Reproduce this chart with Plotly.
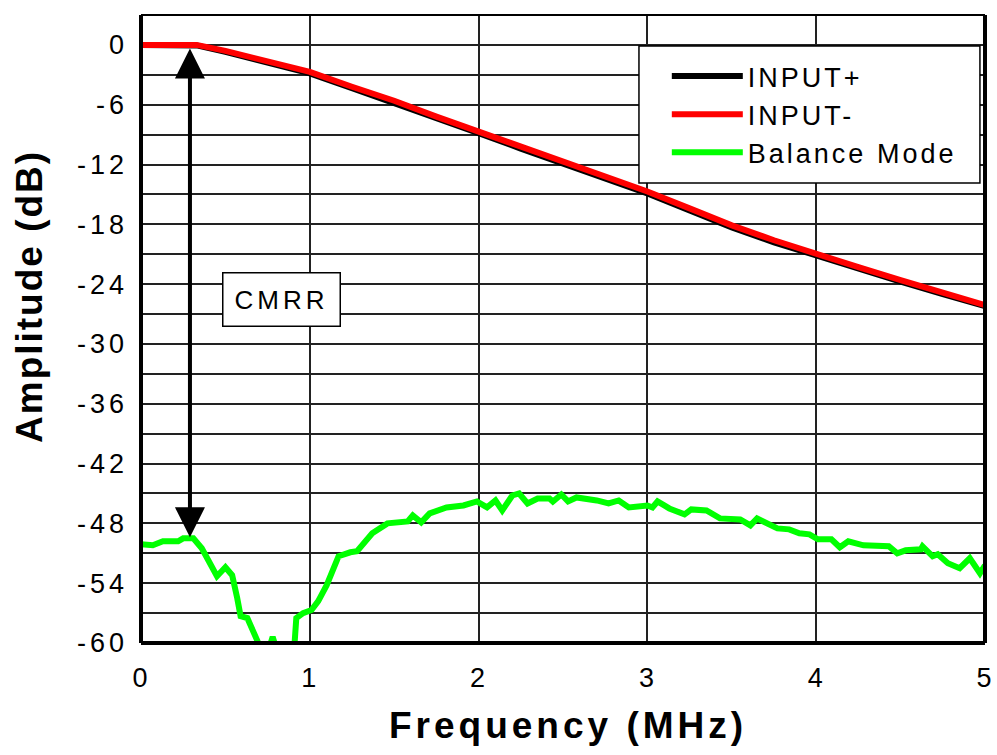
import plotly.graph_objects as go

# Frequency grid (MHz) for the two single-ended inputs
freq_in = [0, 0.1, 0.2, 0.33, 0.5, 0.75, 1.0, 1.25, 1.5, 1.75, 2.0, 2.25, 2.5,
           2.75, 3.0, 3.25, 3.5, 3.75, 4.0, 4.25, 4.5, 4.75, 5.0]
input_pos = [0, 0, 0, -0.05, -0.7, -1.75, -2.85, -4.35, -5.8, -7.35, -8.85, -10.4,
             -11.9, -13.4, -14.9, -16.6, -18.3, -19.8, -21.15, -22.5, -23.75, -25.0, -26.2]
input_neg = [0, 0, 0, 0, -0.6, -1.6, -2.7, -4.2, -5.6, -7.2, -8.7, -10.2,
             -11.7, -13.2, -14.7, -16.4, -18.1, -19.6, -21.0, -22.3, -23.6, -24.9, -26.1]

# Balance-mode (common-mode) response
freq_bal = [0.0, 0.07, 0.13, 0.22, 0.25, 0.31, 0.36, 0.41, 0.45, 0.50, 0.54, 0.57,
            0.59, 0.63, 0.69, 0.72, 0.75, 0.78, 0.81, 0.88, 0.91, 0.92, 0.96, 1.01,
            1.05, 1.10, 1.17, 1.24, 1.28, 1.37, 1.46, 1.58, 1.61, 1.66, 1.71, 1.81,
            1.91, 1.99, 2.05, 2.10, 2.14, 2.20, 2.24, 2.29, 2.35, 2.42, 2.44, 2.49,
            2.53, 2.58, 2.65, 2.70, 2.77, 2.83, 2.89, 3.00, 3.03, 3.06, 3.13, 3.22,
            3.26, 3.35, 3.43, 3.55, 3.61, 3.65, 3.77, 3.84, 3.90, 3.96, 4.01, 4.09,
            4.14, 4.19, 4.28, 4.43, 4.48, 4.53, 4.62, 4.63, 4.69, 4.72, 4.78, 4.85,
            4.91, 4.97, 5.00]
balance = [-50.1, -50.2, -49.8, -49.8, -49.5, -49.5, -50.5, -52.2, -53.3, -52.4, -53.2, -55.5,
           -57.3, -57.5, -59.8, -61.5, -61.0, -59.4, -61.0, -61.5, -60.0, -57.5, -57.0, -56.7,
           -55.8, -54.2, -51.3, -50.9, -50.8, -49.0, -48.0, -47.8, -47.2, -47.9, -47.0, -46.4,
           -46.2, -45.8, -46.4, -45.7, -46.7, -45.2, -45.0, -46.0, -45.5, -45.5, -45.8, -45.1,
           -45.8, -45.4, -45.5, -45.7, -46.0, -45.7, -46.4, -46.2, -46.4, -45.8, -46.5, -47.1,
           -46.6, -46.7, -47.5, -47.6, -48.2, -47.5, -48.5, -48.6, -49.0, -49.1, -49.6, -49.6,
           -50.4, -49.8, -50.2, -50.3, -51.0, -50.7, -50.6, -50.3, -51.3, -51.1, -52.0, -52.5,
           -51.5, -53.0, -52.2]

x_ticks = [0, 1, 2, 3, 4, 5]
y_ticks = [0, -6, -12, -18, -24, -30, -36, -42, -48, -54, -60]
y_minor = [3, -3, -9, -15, -21, -27, -33, -39, -45, -51, -57]

# CMRR marker: double arrow between the input response and the balance response
cmrr_x = 0.29
cmrr_top = -0.2
cmrr_bottom = -49.4

FONT = "Liberation Sans"


def spaced(s, px):
    """Wrap a label in a span with extra tracking."""
    return f'<span style="letter-spacing:{px}px">{s}</span>'


fig = go.Figure()
fig.add_trace(go.Scatter(x=freq_in, y=input_pos, mode="lines", name=spaced("INPUT+", 3),
                         line=dict(color="#000000", width=6)))
fig.add_trace(go.Scatter(x=freq_in, y=input_neg, mode="lines", name=spaced("INPUT-", 3),
                         line=dict(color="#ff0000", width=6)))
fig.add_trace(go.Scatter(x=freq_bal, y=balance, mode="lines", name=spaced("Balance Mode", 3),
                         line=dict(color="#00ff00", width=6)))

fig.add_annotation(x=cmrr_x, y=cmrr_bottom, ax=cmrr_x, ay=cmrr_top,
                   xref="x", yref="y", axref="x", ayref="y",
                   showarrow=True, arrowside="end+start", arrowhead=2,
                   arrowsize=1.5, arrowwidth=4, arrowcolor="#000000",
                   standoff=0, startstandoff=0, text="")
fig.add_annotation(x=0.835, y=-25.5, xref="x", yref="y", text=spaced("CMRR", 4),
                   showarrow=False, bgcolor="#ffffff", bordercolor="#000000",
                   borderwidth=1.5, borderpad=11,
                   font=dict(family=FONT, size=26, color="#000000"))

# Axis titles
fig.add_annotation(x=0.506, y=-0.131, xref="paper", yref="paper",
                   text="<b>" + spaced("Frequency (MHz)", 4) + "</b>", showarrow=False,
                   xanchor="center", yanchor="middle",
                   font=dict(family=FONT, size=37, color="#000000"))
fig.add_annotation(x=-0.1315, y=0.551, xref="paper", yref="paper",
                   text="<b>" + spaced("Amplitude (dB)", 2) + "</b>", showarrow=False,
                   textangle=-90, xanchor="center", yanchor="middle",
                   font=dict(family=FONT, size=37, color="#000000"))

# Plot frame: heavier on left, bottom and right
frame = dict(type="line", xref="paper", yref="paper", line=dict(color="#000000"))
fig.add_shape(**frame, x0=0, x1=0, y0=0, y1=1, line_width=4)
fig.add_shape(**frame, x0=0, x1=1, y0=0, y1=0, line_width=4)
fig.add_shape(**frame, x0=1, x1=1, y0=0, y1=1, line_width=4)
fig.add_shape(**frame, x0=0, x1=1, y0=1, y1=1, line_width=2)

# Legend frame
fig.add_shape(type="rect", xref="paper", yref="paper", x0=0.590, x1=0.994,
              y0=0.7325, y1=0.9506, layer="above",
              fillcolor="#ffffff", line=dict(color="#000000", width=1.5))

fig.update_layout(
    width=997, height=755,
    margin=dict(l=141, r=12, t=15, b=112),
    paper_bgcolor="#ffffff", plot_bgcolor="#ffffff",
    font=dict(family=FONT, color="#000000", size=27),
    showlegend=True,
    legend=dict(x=0.623, y=0.941, xanchor="left", yanchor="top",
                bgcolor="rgba(0,0,0,0)", borderwidth=0,
                font=dict(family=FONT, size=27, color="#000000"),
                itemwidth=71),
    xaxis=dict(range=[0, 5], tickvals=x_ticks,
               ticktext=[spaced(str(v), 2) for v in x_ticks],
               showgrid=True, automargin=False,
               gridcolor="#222222", gridwidth=2, zeroline=False, showline=False,
               ticks="", ticklabelstandoff=16,
               tickfont=dict(family=FONT, size=27)),
    yaxis=dict(range=[-60, 3], tickvals=y_ticks,
               ticktext=[spaced(str(v), 4) for v in y_ticks],
               showgrid=True, automargin=False,
               gridcolor="#222222", gridwidth=2, zeroline=False, showline=False,
               ticks="", ticklabelstandoff=12,
               minor=dict(tickvals=y_minor, showgrid=True,
                          gridcolor="#222222", gridwidth=2),
               tickfont=dict(family=FONT, size=27)),
)

fig.write_html("out.html")
